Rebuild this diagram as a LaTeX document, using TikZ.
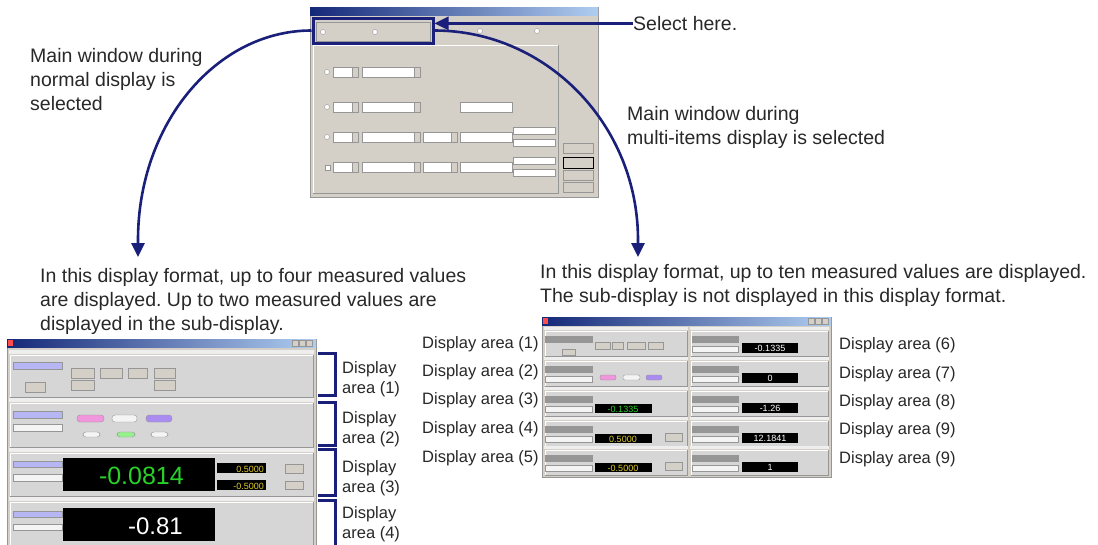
\documentclass[tikz,border=0pt]{standalone}
\usepackage{fontspec}
\setmainfont{Liberation Sans}
\usetikzlibrary{arrows.meta,positioning}
\frenchspacing

\definecolor{navy}{RGB}{26,32,122}
\definecolor{inkgray}{RGB}{40,40,40}
\definecolor{winbg}{RGB}{212,208,200}
\definecolor{panelbg}{RGB}{214,214,214}
\definecolor{stripbg}{RGB}{238,238,238}
\definecolor{edgegray}{RGB}{150,150,150}
\definecolor{titledark}{RGB}{20,40,120}
\definecolor{titlelight}{RGB}{175,205,240}
\definecolor{lavender}{RGB}{182,182,245}
\definecolor{taggray}{RGB}{150,150,150}
\definecolor{boxwhite}{RGB}{244,244,244}
\definecolor{lcdgreen}{RGB}{40,210,40}
\definecolor{lcdyellow}{RGB}{225,205,40}
\definecolor{pillpink}{RGB}{240,150,220}
\definecolor{pillviolet}{RGB}{170,140,240}
\definecolor{pillgreen}{RGB}{150,240,140}

\tikzset{
  caption/.style={font=\fontsize{19.5}{24}\selectfont, text=inkgray, align=left, inner sep=0pt, anchor=north west},
  arealabel/.style={font=\fontsize{16.5}{20}\selectfont, text=inkgray, align=left, inner sep=0pt, anchor=north west},
  link/.style={draw=navy, line width=2.6pt, -{Triangle[length=14pt,width=13pt]}},
  bracket/.style={draw=navy, line width=3pt},
  field/.style={fill=white, draw=edgegray, line width=0.5pt},
  btn/.style={fill=winbg, draw=edgegray, line width=0.6pt},
  lav/.style={fill=lavender, draw=edgegray, line width=0.4pt},
  tag/.style={fill=taggray, draw=edgegray, line width=0.4pt},
  wbox/.style={fill=boxwhite, draw=edgegray, line width=0.4pt},
  lcd/.style={fill=black},
  lcdnum/.style={font=\fontsize{9}{9}\selectfont, inner sep=0pt}
}

\begin{document}
\begin{tikzpicture}[x=1pt, y=-1pt]
\useasboundingbox[fill=white] (0,0) rectangle (1098,544);

%dialog: select display
\fill[winbg] (310,7) rectangle (598,197);
\draw[edgegray] (310,7) rectangle (598,197);
\shade[left color=titledark, right color=titlelight] (310,7) rectangle (598,15);
\draw[edgegray] (316,22) rectangle (430,41);
\draw[fill=white, draw=edgegray] (323,32) circle (2.5) (375,32) circle (2.5) (480,31) circle (2.5) (537,31) circle (2.5);
\draw[white] (313,193) -- (313,45) -- (558,45);
\draw[edgegray] (558,45) -- (558,193) -- (313,193);
\foreach \y in {72,107,137,167} {
  \draw[field] (333,\y-5) rectangle (358,\y+5);
  \draw[btn] (352,\y-5) rectangle (358,\y+5);
  \draw[field] (362,\y-5) rectangle (420,\y+5);
  \draw[btn] (414,\y-5) rectangle (420,\y+5);
}
\foreach \y in {72,107,137} \draw[fill=white, draw=edgegray] (327,\y) circle (2.5);
\draw[field] (325,165) rectangle (330,170);
\draw[field] (460,102) rectangle (512,112);
\foreach \y in {137,167} {
  \draw[field] (423,\y-5) rectangle (457,\y+5);
  \draw[btn] (451,\y-5) rectangle (457,\y+5);
  \draw[field] (460,\y-5) rectangle (512,\y+5);
  \draw[field] (513,\y-10) rectangle (555,\y-3);
  \draw[field] (513,\y+2) rectangle (555,\y+9);
}
\foreach \ya/\yb in {143/153,157/168,170/180,182/192} \draw[btn] (563,\ya) rectangle (593,\yb);
\draw[black, line width=0.8pt] (563,157) rectangle (593,168);

\node[draw=navy, line width=3pt, minimum width=120pt, minimum height=25pt, inner sep=0pt] (selbox) at (373,30.5) {};

%left window: normal display
\fill[winbg] (7,339) rectangle (316,560);
\draw[edgegray] (7,339) rectangle (316,560);
\shade[left color=titledark, right color=titlelight] (7,339) rectangle (316,347);
\fill[red!70] (8,340) rectangle (13,346);
\foreach \x in {292,299,306} \draw[btn] (\x,340) rectangle ++(6,6);
\foreach \ya/\yb in {350/398,398/448,448/497,497/560} {
  \fill[stripbg] (9,\ya) rectangle (314,\ya+4);
  \fill[panelbg] (10,\ya+5) rectangle (313,\yb-1);
  \draw[white] (10,\yb-1) -- (10,\ya+5) -- (313,\ya+5);
  \draw[edgegray] (313,\ya+5) -- (313,\yb-1) -- (10,\yb-1);
}
% area 1
\draw[lav] (13,362) rectangle (62,369);
\draw[btn] (25,382) rectangle (45,392);
\foreach \xa/\xb in {71/94,100/122,128/147,154/175} \draw[btn] (\xa,368) rectangle (\xb,378);
\foreach \xa/\xb in {71/94,154/175} \draw[btn] (\xa,380) rectangle (\xb,390);
% area 2
\draw[lav] (13,411) rectangle (62,418);
\draw[wbox] (13,424) rectangle (62,431);
\draw[fill=pillpink, draw=edgegray, rounded corners=3pt] (77,415) rectangle (104,422);
\draw[fill=boxwhite, draw=edgegray, rounded corners=3pt] (112,415) rectangle (137,422);
\draw[fill=pillviolet, draw=edgegray, rounded corners=3pt] (146,415) rectangle (172,422);
\draw[fill=boxwhite, draw=edgegray, rounded corners=3pt] (83,432) rectangle (100,437);
\draw[fill=pillgreen, draw=edgegray, rounded corners=3pt] (117,432) rectangle (135,437);
\draw[fill=boxwhite, draw=edgegray, rounded corners=3pt] (151,432) rectangle (168,437);
% area 3
\draw[lav] (13,461) rectangle (62,467);
\draw[wbox] (13,474) rectangle (62,481);
\fill[lcd] (63,458) rectangle (215,491);
\node[font=\fontsize{25}{25}\selectfont, text=lcdgreen, inner sep=0pt, anchor=base east] (mainval) at (184,484) {-0.0814};
\fill[lcd] (217,463) rectangle (266,473);
\fill[lcd] (217,480) rectangle (266,490);
\node[lcdnum, text=lcdyellow, anchor=east] at (264,469) {0.5000};
\node[lcdnum, text=lcdyellow, anchor=east] at (264,486) {-0.5000};
\draw[btn] (285,464) rectangle (303,473);
\draw[btn] (285,481) rectangle (303,489);
% area 4
\draw[lav] (13,511) rectangle (62,517);
\draw[wbox] (13,524) rectangle (62,530);
\fill[lcd] (63,508) rectangle (215,541);
\node[font=\fontsize{24}{24}\selectfont, text=white, inner sep=0pt, anchor=base east] (subval) at (183,534) {-0.81};

\foreach \n/\ya/\yb/\ty in {1/353/395/361, 2/402/445/411, 3/449/495/460, 4/500/560/506} {
  \draw[bracket] (318,\ya) -- (335,\ya) -- (335,\yb) -- (318,\yb);
  \node[arealabel] (la\n) at (342,\ty) {Display\\area (\n)};
}

%right window: multi-items display
\fill[winbg] (542,317) rectangle (831,477);
\draw[edgegray] (542,317) rectangle (831,477);
\shade[left color=titledark, right color=titlelight] (542,317) rectangle (831,325);
\fill[red!70] (543,318) rectangle (548,324);
\foreach \x in {808,815,822} \draw[btn] (\x,318) rectangle ++(6,6);
\foreach \xa/\xb in {544/688,690/829} {
  \foreach \ya in {327,357,387,417,446} {
    \fill[stripbg] (\xa,\ya) rectangle (\xb,\ya+3);
    \fill[panelbg] (\xa+1,\ya+4) rectangle (\xb-1,\ya+29);
    \draw[white] (\xa+1,\ya+29) -- (\xa+1,\ya+4) -- (\xb-1,\ya+4);
    \draw[edgegray] (\xb-1,\ya+4) -- (\xb-1,\ya+29) -- (\xa+1,\ya+29);
  }
}
\foreach \ya in {327,357,387,417,446} {
  \draw[tag] (545,\ya+9) rectangle (592,\ya+15);
  \draw[tag] (692,\ya+9) rectangle (738,\ya+15);
  \draw[wbox] (692,\ya+19) rectangle (738,\ya+25);
  \fill[lcd] (742,\ya+16) rectangle (798,\ya+26);
}
\foreach \ya in {357,387,417,446} \draw[wbox] (545,\ya+19) rectangle (592,\ya+25);
\draw[btn] (562,349) rectangle (575,355);
\foreach \xa/\xb in {595/610,612/623,627/645,648/663} \draw[btn] (\xa,342) rectangle (\xb,349);
\draw[fill=pillpink, draw=edgegray, rounded corners=2pt] (600,375) rectangle (616,380);
\draw[fill=boxwhite, draw=edgegray, rounded corners=2pt] (623,375) rectangle (640,380);
\draw[fill=pillviolet, draw=edgegray, rounded corners=2pt] (646,375) rectangle (662,380);
\foreach \ya in {387,417,446} \fill[lcd] (595,\ya+17) rectangle (652,\ya+26);
\foreach \ya in {417,446} \draw[btn] (665,\ya+16) rectangle (682,\ya+24);
\node[lcdnum, text=white] at (770,348) {-0.1335};
\node[lcdnum, text=white] at (770,378) {0};
\node[lcdnum, text=white] at (770,408) {-1.26};
\node[lcdnum, text=white] at (770,438) {12.1841};
\node[lcdnum, text=white] at (770,467) {1};
\node[lcdnum, text=lcdgreen] at (623,409) {-0.1335};
\node[lcdnum, text=lcdyellow] at (623,439) {0.5000};
\node[lcdnum, text=lcdyellow] at (623,468) {-0.5000};

\foreach \n/\ty in {1/336, 2/364, 3/392, 4/421, 5/450}
  \node[arealabel] (ra\n) at (422,\ty) {Display area (\n)};
\foreach \i/\n/\ty in {6/6/337, 7/7/366, 8/8/394, 9/9/422, 10/9/451}
  \node[arealabel] (ra\i) at (839,\ty) {Display area (\n)};

%captions
\node[caption] (sel) at (633,16) {Select here.};
\node[caption] (normal) at (30,48) {Main window during\\normal display is\\selected};
\node[caption] (multi) at (627,106) {Main window during\\multi-items display is selected};
\node[caption] (normaltxt) at (40,268) {In this display format, up to four measured values\\are displayed. Up to two measured values are\\displayed in the sub-display.};
\node[caption] (multitxt) at (540,264) {In this display format, up to ten measured values are displayed.\\The sub-display is not displayed in this display format.};

%connectors
\coordinate (lefttip) at (138,257);
\coordinate (righttip) at (638,257);
\draw[link] (sel.west) -- (sel.west -| selbox.east);
\draw[link] (selbox.west) .. controls (216,30.5) and (138,124) .. (138,240) -- (lefttip);
\draw[link] (selbox.east) .. controls (546,30.5) and (638,124) .. (638,240) -- (righttip);
\end{tikzpicture}
\end{document}
